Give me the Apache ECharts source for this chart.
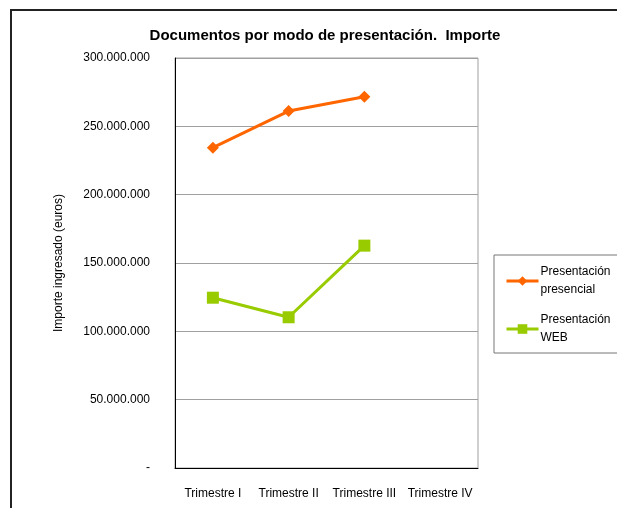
<!DOCTYPE html>
<html>
<head>
<meta charset="utf-8">
<script src="https://cdn.jsdelivr.net/npm/echarts@6/dist/echarts.min.js"></script>
<style>
  html, body { margin: 0; padding: 0; background: #fff; }
  #chart { width: 617px; height: 508px; }
</style>
</head>
<body>
<div id="chart"></div>
<script>
// trimestres y valores (euros)
var categories = ['Trimestre I', 'Trimestre II', 'Trimestre III', 'Trimestre IV'];
var presencial = [234400000, 261200000, 271700000, null];
var web = [124600000, 110300000, 162700000, null];
var seriesNames = ['Presentación\npresencial', 'Presentación\nWEB'];

var FONT = '"Liberation Sans Narrow", "Liberation Sans", Arial, sans-serif';

function miles(v) {
  if (v === 0) return '-';
  return String(v).replace(/\B(?=(\d{3})+(?!\d))/g, '.');
}

var chart = echarts.init(document.getElementById('chart'));
chart.setOption({
  animation: false,
  textStyle: { fontFamily: FONT },
  graphic: [{
    type: 'rect',
    shape: { x: 11, y: 10, width: 700, height: 600 },
    style: { fill: 'none', stroke: '#222', lineWidth: 2 },
    silent: true
  }],
  title: {
    text: 'Documentos por modo de presentación.  Importe',
    left: 320,
    textAlign: 'center',
    top: 23,
    textStyle: { fontFamily: FONT, fontSize: 15, fontWeight: 'bold', color: '#000' }
  },
  legend: {
    orient: 'vertical',
    left: 494,
    top: 255,
    width: 120,
    padding: [8, 20, 6, 11],
    itemGap: 12,
    itemWidth: 32,
    itemHeight: 12,
    borderColor: '#777',
    borderWidth: 1,
    lineStyle: { width: 3 },
    data: seriesNames,
    textStyle: { fontFamily: FONT, fontSize: 12, color: '#000', lineHeight: 18, padding: [0, 0, 0, -3] }
  },
  grid: { left: 175, top: 58, width: 303, height: 410, show: true, borderColor: '#a0a0a0', borderWidth: 1 },
  xAxis: {
    type: 'category',
    data: categories,
    boundaryGap: true,
    axisLine: { lineStyle: { color: '#000', width: 1 } },
    axisTick: { show: false },
    axisLabel: { interval: 0, margin: 20, color: '#000', fontSize: 12, fontFamily: FONT }
  },
  yAxis: {
    type: 'value',
    min: 0,
    max: 300000000,
    interval: 50000000,
    name: 'Importe ingresado (euros)',
    nameLocation: 'middle',
    nameGap: 110,
    nameRotate: 90,
    nameTextStyle: { color: '#000', fontSize: 12, fontFamily: FONT },
    axisLine: { show: true, lineStyle: { color: '#000', width: 1 } },
    axisTick: { show: false },
    axisLabel: { margin: 25, color: '#000', fontSize: 12, fontFamily: FONT, formatter: miles },
    splitLine: { lineStyle: { color: '#a0a0a0', width: 1 } }
  },
  series: [
    {
      name: seriesNames[0],
      type: 'line',
      data: presencial,
      symbol: 'diamond',
      symbolSize: 12,
      itemStyle: { color: '#ff6600' },
      lineStyle: { color: '#ff6600', width: 3 }
    },
    {
      name: seriesNames[1],
      type: 'line',
      data: web,
      symbol: 'rect',
      symbolSize: 12,
      itemStyle: { color: '#99cc00' },
      lineStyle: { color: '#99cc00', width: 3 }
    }
  ]
});
</script>
</body>
</html>
